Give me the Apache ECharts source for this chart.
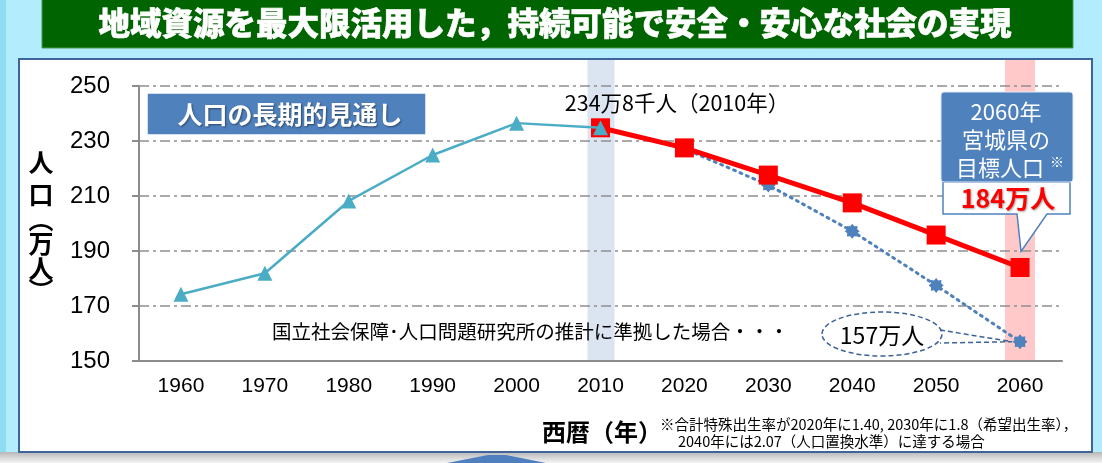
<!DOCTYPE html>
<html>
<head>
<meta charset="utf-8">
<script src="https://cdn.jsdelivr.net/npm/echarts@6/dist/echarts.min.js"></script>
<style>
html,body{margin:0;padding:0;background:#b3ecfd;}
#main{width:1102px;height:463px;}
</style>
</head>
<body>
<div id="main"></div>
<script>
const years = ['1960','1970','1980','1990','2000','2010','2020','2030','2040','2050','2060'];
const actual = [174.3, 181.9, 208.2, 224.9, 236.5, 234.8, null, null, null, null, null];
const target = [null, null, null, null, null, 234.8, 227.5, 217.6, 207.5, 195.8, 184.0];
const projection = [null, null, null, null, null, 234.8, 227.2, 214.0, 197.2, 177.5, 157.0];
const yMin = 150, yMax = 250, yStep = 20;

const title = '地域資源を最大限活用した，持続可能で安全・安心な社会の実現';
const boxLabel = '人口の長期的見通し';
const label2010 = '234万8千人（2010年）';
const calloutLines = ['2060年', '宮城県の', '目標人口'];
const targetLabel = '184万人';
const projLabel = '157万人';
const projNote = '国立社会保障･人口問題研究所の推計に準拠した場合・・・';
const yName = ['人', '口', '︵', '万', '人', '︶'];
const xName = '西暦（年）';
const foot1 = '※合計特殊出生率が2020年に1.40, 2030年に1.8（希望出生率），';
const foot2 = '2040年には2.07（人口置換水準）に達する場合';

const FONT = '"Noto Sans CJK JP", "Liberation Sans", sans-serif';
const NUMFONT = '"Liberation Sans", Arial, sans-serif';

// 8-point star-like marker path
function starPath() {
  const pts = [];
  for (let i = 0; i < 16; i++) {
    const r = i % 2 === 0 ? 10 : 7.2;
    const a = Math.PI * 2 * i / 16 - Math.PI / 2;
    pts.push((10 + r * Math.cos(a)).toFixed(2) + ',' + (10 + r * Math.sin(a)).toFixed(2));
  }
  return 'path://M' + pts.join('L') + 'Z';
}

const chart = echarts.init(document.getElementById('main'), null, {renderer: 'canvas'});

const option = {
  animation: false,
  backgroundColor: '#b3ecfd',
  grid: {left: 139, right: 40, top: 86, bottom: 102, containLabel: false},
  xAxis: {
    type: 'category',
    data: years,
    boundaryGap: true,
    axisLine: {lineStyle: {color: '#8c8c8c', width: 2}},
    axisTick: {alignWithLabel: true, length: 6, lineStyle: {color: '#8c8c8c', width: 2}},
    axisLabel: {color: '#000', fontSize: 21, fontFamily: NUMFONT, margin: 15},
    splitLine: {show: false}
  },
  yAxis: {
    type: 'value',
    min: yMin, max: yMax, interval: yStep,
    axisLine: {show: true, lineStyle: {color: '#8c8c8c', width: 2}},
    axisTick: {show: true, length: 7, lineStyle: {color: '#8c8c8c', width: 2}},
    axisLabel: {color: '#000', fontSize: 24, fontFamily: NUMFONT, margin: 29},
    splitLine: {show: true, lineStyle: {color: '#8f8f8f', width: 1.5, type: [10, 4, 3, 4]}}
  },
  series: [
    {
      name: 'projection', type: 'line', data: projection, z: 3,
      symbol: starPath(), symbolSize: 15, showSymbol: true,
      itemStyle: {color: '#4f81bd'},
      lineStyle: {color: '#4f81bd', width: 3, type: [2, 5], cap: 'round'}
    },
    {
      name: 'target', type: 'line', data: target, z: 4,
      symbol: 'rect', symbolSize: 19,
      itemStyle: {color: '#ff0000'},
      lineStyle: {color: '#ff0000', width: 5}
    },
    {
      name: 'actual', type: 'line', data: actual, z: 5,
      symbol: 'triangle', symbolSize: 15,
      itemStyle: {color: '#4bacc6'},
      lineStyle: {color: '#4bacc6', width: 2.5}
    }
  ]
};
chart.setOption(option);

function px(cat, val) { return chart.convertToPixel({gridIndex: 0}, [cat, val]); }

const axisBottom = px(years[0], yMin)[1];
const pTop = 59;
const b2010 = px('2010', yMin)[0];
const b2060 = px('2060', yMin)[0];
const p2060t = px('2060', target[10]);
const p2060p = px('2060', projection[10]);

const g = [];
// panel
g.push({type: 'rect', z: -10, shape: {x: 0, y: 452, width: 1102, height: 11},
  style: {fill: new echarts.graphic.LinearGradient(0, 0, 0, 1, [{offset: 0, color: '#b8b8b8'}, {offset: 1, color: '#f4f4f4'}])}});
g.push({type: 'rect', z: -9, shape: {x: 0, y: 0, width: 6, height: 452}, style: {fill: '#8fdcf2'}});
g.push({type: 'rect', z: -8, shape: {x: 19, y: pTop, width: 1073, height: 393}, style: {fill: '#ffffff', stroke: '#41639c', lineWidth: 2}});
// bottom arrow hint
g.push({type: 'polygon', z: -7, shape: {points: [[447, 463], [488, 455], [506, 455], [546, 463]]}, style: {fill: '#4f7fbf'}});
// bands
g.push({type: 'rect', z: -5, shape: {x: b2010 - 13, y: pTop + 1, width: 27, height: axisBottom - pTop - 1}, style: {fill: '#dbe5f1'}});
g.push({type: 'rect', z: -5, shape: {x: b2060 - 15, y: pTop + 1, width: 30, height: axisBottom - pTop - 1}, style: {fill: '#ffc9c9'}});
// banner
g.push({type: 'rect', z: 10, shape: {x: 42, y: -2, width: 1031, height: 50}, style: {fill: '#006400', stroke: '#4a9a4a', lineWidth: 1}});
g.push({type: 'text', z: 11, style: {text: title, x: 555, y: 23, align: 'center', verticalAlign: 'middle',
  fill: '#ffffff', font: '900 31.5px ' + FONT, stroke: '#ffffff', lineWidth: 0.6}});
// label box
g.push({type: 'rect', z: 10, shape: {x: 147, y: 93, width: 279, height: 42}, style: {fill: '#4f81bd', stroke: '#ffffff', lineWidth: 1.5}});
g.push({type: 'text', z: 11, style: {text: boxLabel, x: 290, y: 114, align: 'center', verticalAlign: 'middle',
  fill: '#ffffff', font: 'bold 25px ' + FONT, textShadowColor: 'rgba(0,0,0,0.45)', textShadowBlur: 2, textShadowOffsetX: 1, textShadowOffsetY: 1}});
// 2010 label
g.push({type: 'text', z: 11, style: {text: label2010, x: 677, y: 103, align: 'center', verticalAlign: 'middle',
  fill: '#000', font: '21.5px ' + FONT}});
// callout
g.push({type: 'polygon', z: 10, shape: {points: [[943, 182], [1070, 182], [1070, 214], [1047, 214], [p2060t[0] + 1, p2060t[1] - 16], [1017, 214], [943, 214]]},
  style: {fill: '#ffffff', stroke: '#4f81bd', lineWidth: 1.5}});
g.push({type: 'rect', z: 11, shape: {x: 941, y: 92, width: 132, height: 90, r: 3}, style: {fill: '#4f81bd', stroke: '#dfe8f5', lineWidth: 1}});
calloutLines.forEach(function (t, i) {
  g.push({type: 'text', z: 12, style: {text: t, x: i === 2 ? 1000 : 1006, y: 112 + i * 28, align: 'center', verticalAlign: 'middle',
    fill: '#ffffff', font: '22px ' + FONT}});
});
g.push({type: 'text', z: 12, style: {text: '※', x: 1057, y: 162, align: 'center', verticalAlign: 'middle', fill: '#ffffff', font: '14px ' + FONT}});
g.push({type: 'text', z: 12, style: {text: targetLabel, x: 1008, y: 198, align: 'center', verticalAlign: 'middle',
  fill: '#ff0000', font: 'bold 25px ' + FONT, textShadowColor: 'rgba(0,0,0,0.35)', textShadowBlur: 2, textShadowOffsetX: 1, textShadowOffsetY: 1}});
// projection note
g.push({type: 'text', z: 11, style: {text: projNote, x: 272, y: 332, align: 'left', verticalAlign: 'middle', fill: '#000', font: '19.5px ' + FONT}});
// ellipse callout
g.push({type: 'ellipse', z: 11, shape: {cx: 882, cy: 334, rx: 60, ry: 22}, style: {fill: 'none', stroke: '#3d6299', lineWidth: 1.5, lineDash: [5, 3]}});
g.push({type: 'polyline', z: 11, shape: {points: [[940, 330], [p2060p[0] - 8, p2060p[1]], [940, 343]]}, style: {fill: 'none', stroke: '#3d6299', lineWidth: 1.5, lineDash: [5, 3]}});
g.push({type: 'text', z: 12, style: {text: projLabel, x: 882, y: 335, align: 'center', verticalAlign: 'middle', fill: '#000', font: '23px ' + FONT}});
// y axis name
const yNameY = [162, 194, 219, 243, 268, 290];
yName.forEach(function (c, i) {
  g.push({type: 'text', z: 11, style: {text: c, x: 41, y: yNameY[i], align: 'center', verticalAlign: 'middle', fill: '#000', font: 'bold 25px ' + FONT}});
});
// x axis name
g.push({type: 'text', z: 11, style: {text: xName, x: 602, y: 432, align: 'center', verticalAlign: 'middle', fill: '#000', font: 'bold 24px ' + FONT}});
// footnotes
g.push({type: 'text', z: 11, style: {text: foot1, x: 660, y: 424, align: 'left', verticalAlign: 'middle', fill: '#000', font: '14.5px ' + FONT}});
g.push({type: 'text', z: 11, style: {text: foot2, x: 678, y: 441, align: 'left', verticalAlign: 'middle', fill: '#000', font: '14.5px ' + FONT}});

chart.setOption({graphic: {elements: g}});
</script>
</body>
</html>
